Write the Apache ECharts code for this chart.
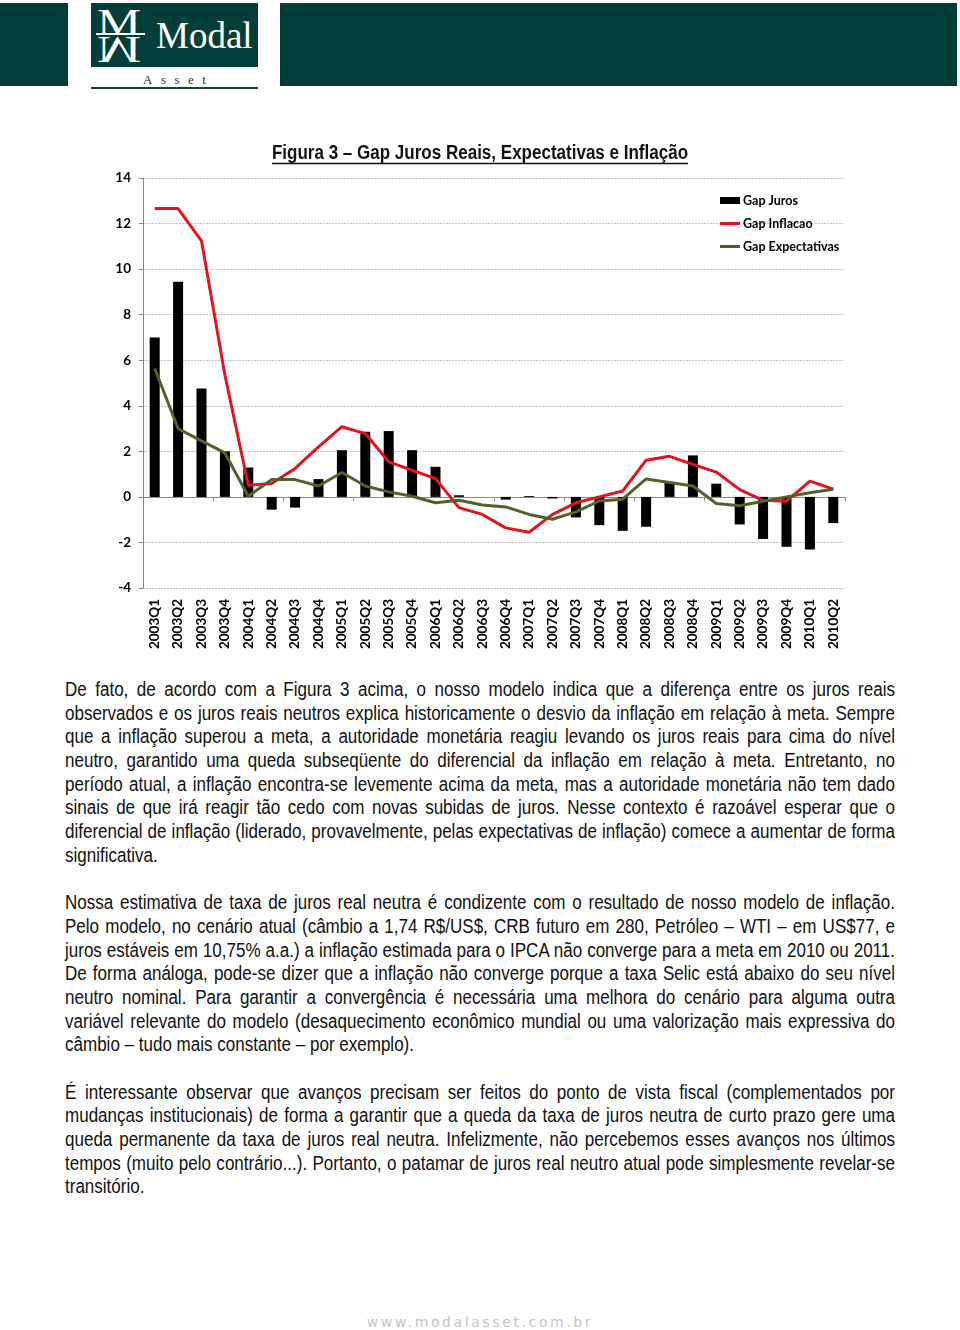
<!DOCTYPE html>
<html>
<head>
<meta charset="utf-8">
<script src="https://cdn.jsdelivr.net/npm/echarts@6/dist/echarts.min.js"></script>
<style>
  html, body { margin: 0; padding: 0; background: #fff; }
  body { position: relative; width: 960px; height: 1330px; overflow: hidden; }
  .box { position: absolute; background: #033f38; }
  #chart { position: absolute; left: 0; top: 100px; width: 960px; height: 570px; }
  #text { position: absolute; left: 65px; top: 677px; width: 1012.2px;
          transform: scaleX(0.82); transform-origin: left top;
          font-family: "Liberation Sans", Arial, sans-serif;
          font-size: 20px; line-height: 23.7px; color: #111; }
  #text .l { text-align: justify; text-align-last: justify; height: 23.7px; }
  #text .e { text-align: left; height: 23.7px; }
  #footer { position: absolute; left: 0; width: 960px; top: 1314px; text-align: center;
            font-family: "DejaVu Sans", sans-serif; font-size: 14px; letter-spacing: 2.6px; color: #c4c4c4; }
</style>
</head>
<body>
<div class="box" style="left:0;top:3px;width:68px;height:83px;"></div>
<div class="box" style="left:91px;top:3px;width:167px;height:64px;"></div>
<div class="box" style="left:280px;top:3px;width:677px;height:83px;"></div>
<div style="position:absolute;left:97px;top:3px;font-family:'Liberation Serif',serif;font-size:38px;line-height:38px;color:#fff;transform:scaleX(1.3);transform-origin:left top;">M</div>
<div style="position:absolute;left:97px;top:31px;font-family:'Liberation Serif',serif;font-size:38px;line-height:38px;color:#fff;transform:scaleX(1.3) scaleY(-1);transform-origin:left center;">M</div>
<div style="position:absolute;left:96px;top:33px;width:49px;height:2px;background:#fff;"></div>
<div style="position:absolute;left:156px;top:16px;font-family:'Liberation Serif',serif;font-size:37px;line-height:40px;color:#fff;">Modal</div>
<div style="position:absolute;left:143px;top:72px;font-family:'Liberation Serif',serif;font-size:13px;letter-spacing:8.5px;color:#333;">Asset</div>
<div style="position:absolute;left:91px;top:87px;width:167px;height:2px;background:#1d3f3a;"></div>

<div id="chart"></div>

<div id="text">
<div class="l">De fato, de acordo com a Figura 3 acima, o nosso modelo indica que a diferença entre os juros reais</div>
<div class="l">observados e os juros reais neutros explica historicamente o desvio da inflação em relação à meta. Sempre</div>
<div class="l">que a inflação superou a meta, a autoridade monetária reagiu levando os juros reais para cima do nível</div>
<div class="l">neutro, garantido uma queda subseqüente do diferencial da inflação em relação à meta. Entretanto, no</div>
<div class="l">período atual, a inflação encontra-se levemente acima da meta, mas a autoridade monetária não tem dado</div>
<div class="l">sinais de que irá reagir tão cedo com novas subidas de juros. Nesse contexto é razoável esperar que o</div>
<div class="l">diferencial de inflação (liderado, provavelmente, pelas expectativas de inflação) comece a aumentar de forma</div>
<div class="e">significativa.</div>
<div class="e"></div>
<div class="l">Nossa estimativa de taxa de juros real neutra é condizente com o resultado de nosso modelo de inflação.</div>
<div class="l">Pelo modelo, no cenário atual (câmbio a 1,74 R$/US$, CRB futuro em 280, Petróleo – WTI – em US$77, e</div>
<div class="l">juros estáveis em 10,75% a.a.) a inflação estimada para o IPCA não converge para a meta em 2010 ou 2011.</div>
<div class="l">De forma análoga, pode-se dizer que a inflação não converge porque a taxa Selic está abaixo do seu nível</div>
<div class="l">neutro nominal. Para garantir a convergência é necessária uma melhora do cenário para alguma outra</div>
<div class="l">variável relevante do modelo (desaquecimento econômico mundial ou uma valorização mais expressiva do</div>
<div class="e">câmbio – tudo mais constante – por exemplo).</div>
<div class="e"></div>
<div class="l">É interessante observar que avanços precisam ser feitos do ponto de vista fiscal (complementados por</div>
<div class="l">mudanças institucionais) de forma a garantir que a queda da taxa de juros neutra de curto prazo gere uma</div>
<div class="l">queda permanente da taxa de juros real neutra. Infelizmente, não percebemos esses avanços nos últimos</div>
<div class="l">tempos (muito pelo contrário...). Portanto, o patamar de juros real neutro atual pode simplesmente revelar-se</div>
<div class="e">transitório.</div>
</div>

<div id="footer">www.modalasset.com.br</div>

<script>
const categories = ['2003Q1','2003Q2','2003Q3','2003Q4','2004Q1','2004Q2','2004Q3','2004Q4',
  '2005Q1','2005Q2','2005Q3','2005Q4','2006Q1','2006Q2','2006Q3','2006Q4',
  '2007Q1','2007Q2','2007Q3','2007Q4','2008Q1','2008Q2','2008Q3','2008Q4',
  '2009Q1','2009Q2','2009Q3','2009Q4','2010Q1','2010Q2'];
const gapJuros = [7.0, 9.45, 4.76, 2.0, 1.29, -0.56, -0.47, 0.78,
  2.05, 2.86, 2.89, 2.05, 1.32, 0.07, 0.0, -0.12,
  0.04, -0.07, -0.9, -1.24, -1.49, -1.31, 0.66, 1.82,
  0.58, -1.21, -1.85, -2.19, -2.31, -1.15];
const gapInflacao = [12.66, 12.66, 11.24, 5.35, 0.51, 0.59, 1.25, 2.2,
  3.08, 2.78, 1.54, 1.17, 0.8, -0.47, -0.77, -1.36,
  -1.55, -0.77, -0.26, 0.0, 0.26, 1.61, 1.78, 1.43,
  1.09, 0.32, -0.15, -0.19, 0.69, 0.34];
const gapExpectativas = [5.64, 3.0, 2.46, 1.93, 0.03, 0.76, 0.76, 0.48,
  1.07, 0.48, 0.22, 0.03, -0.26, -0.15, -0.36, -0.44,
  -0.77, -0.98, -0.66, -0.18, -0.1, 0.79, 0.63, 0.48,
  -0.29, -0.39, -0.19, 0.0, 0.18, 0.34];
const titleText = 'Figura 3 – Gap Juros Reais, Expectativas e Inflação';

// fit body text size so the tightest justified line just fills the column
(function fitText() {
  const c = document.createElement('canvas').getContext('2d');
  c.font = '20px "Liberation Sans", Arial, sans-serif';
  let maxW = 0;
  document.querySelectorAll('#text .l').forEach(function (d) {
    maxW = Math.max(maxW, c.measureText(d.textContent).width);
  });
  if (maxW > 0) {
    const fs = Math.min(21, 20 * 1008 / maxW);
    document.getElementById('text').style.fontSize = fs.toFixed(2) + 'px';
  }
})();

const titleFont = 'bold 20.75px "Liberation Sans", Arial, sans-serif';
const titleScale = 0.82;
const labelFont = 'Lato, "Open Sans", sans-serif';

const mctx = document.createElement('canvas').getContext('2d');
mctx.font = titleFont;
const tw = mctx.measureText(titleText).width * titleScale;

const lineIcon = 'path://M0,0H20V3H0Z';

const chart = echarts.init(document.getElementById('chart'), null, { renderer: 'canvas' });
chart.setOption({
  animation: false,
  backgroundColor: '#fff',
  graphic: [{
    type: 'text', x: 480, y: 53, scaleX: titleScale,
    style: { text: titleText, font: titleFont, fill: '#111', align: 'center', verticalAlign: 'middle' }
  }, {
    type: 'line', shape: { x1: 480 - tw / 2, y1: 63.5, x2: 480 + tw / 2, y2: 63.5 },
    style: { stroke: '#111', lineWidth: 1.5 }
  }],
  legend: {
    orient: 'vertical', left: 720, top: 94, padding: 0, itemGap: 10,
    itemWidth: 20, itemHeight: 7,
    textStyle: { fontFamily: labelFont, fontWeight: 'bold', fontSize: 12.5, color: '#000', padding: [0, 0, 0, -2] },
    data: [{ name: 'Gap Juros', icon: 'rect' },
           { name: 'Gap Inflacao', icon: lineIcon },
           { name: 'Gap Expectativas', icon: lineIcon }]
  },
  grid: { left: 143, right: 115, top: 78, bottom: 82, containLabel: false },
  xAxis: [{
    type: 'category', data: categories, position: 'bottom', boundaryGap: true,
    axisLine: { onZero: true, lineStyle: { color: '#8a8a8a', width: 1 } },
    axisTick: { show: true, length: 4, lineStyle: { color: '#8a8a8a' } },
    axisLabel: { show: false }, splitLine: { show: false }
  }, {
    type: 'category', data: categories, position: 'bottom', boundaryGap: true,
    axisLine: { show: false, onZero: false }, axisTick: { show: false },
    axisLabel: { rotate: 90, margin: 11, fontFamily: labelFont, fontWeight: 'bold', fontSize: 13.5, color: '#000', interval: 0 },
    splitLine: { show: false }
  }],
  yAxis: {
    type: 'value', min: -4, max: 14, interval: 2,
    axisLine: { show: true, lineStyle: { color: '#8a8a8a' } },
    axisTick: { show: true, length: 4, lineStyle: { color: '#8a8a8a' } },
    axisLabel: { margin: 12, fontFamily: labelFont, fontWeight: 'bold', fontSize: 13.5, color: '#000' },
    splitLine: { show: true, lineStyle: { color: '#c2c2c2', type: [2, 1], width: 1 } }
  },
  series: [{
    name: 'Gap Juros', type: 'bar', data: gapJuros, barWidth: 10, xAxisIndex: 0,
    itemStyle: { color: '#000' }
  }, {
    name: 'Gap Inflacao', type: 'line', data: gapInflacao, symbol: 'none', xAxisIndex: 0,
    lineStyle: { color: '#e3141b', width: 3 }, itemStyle: { color: '#e3141b' }
  }, {
    name: 'Gap Expectativas', type: 'line', data: gapExpectativas, symbol: 'none', xAxisIndex: 0,
    lineStyle: { color: '#4f6228', width: 3 }, itemStyle: { color: '#4f6228' }
  }]
});
</script>
</body>
</html>
